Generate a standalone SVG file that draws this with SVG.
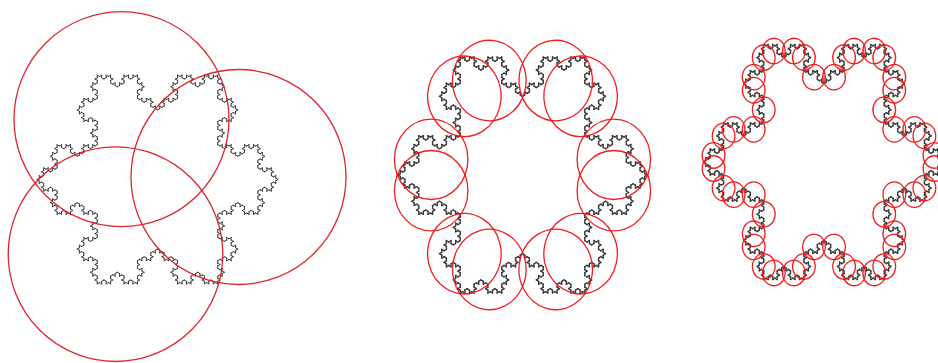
<svg xmlns="http://www.w3.org/2000/svg" xmlns:xlink="http://www.w3.org/1999/xlink" width="938" height="363" viewBox="0 0 938 363">
<style>
.seg{fill:none;vector-effect:non-scaling-stroke;stroke-linecap:round;stroke-linejoin:round}
.ring{fill:none;vector-effect:non-scaling-stroke}
.flakeL{stroke:#383838;stroke-width:1}
.flakeM{stroke:#3c3c3c;stroke-width:1.4}
.redL{stroke:#e0242e;stroke-width:1.3}
.redM{stroke:#f21c1c;stroke-width:1.3}
</style>
<defs>
<path id="k0" class="seg" d="M0,0H1"/>
<g id="k1"><use href="#k0"/><use href="#k0" transform="translate(1,0) rotate(-60)"/><use href="#k0" transform="translate(1.5,-0.8660254) rotate(60)"/><use href="#k0" transform="translate(2,0)"/></g>
<g id="k2"><use href="#k1"/><use href="#k1" transform="translate(3,0) rotate(-60)"/><use href="#k1" transform="translate(4.5,-2.5980762) rotate(60)"/><use href="#k1" transform="translate(6,0)"/></g>
<g id="k3"><use href="#k2"/><use href="#k2" transform="translate(9,0) rotate(-60)"/><use href="#k2" transform="translate(13.5,-7.7942286) rotate(60)"/><use href="#k2" transform="translate(18,0)"/></g>
<g id="k4"><use href="#k3"/><use href="#k3" transform="translate(27,0) rotate(-60)"/><use href="#k3" transform="translate(40.5,-23.3826859) rotate(60)"/><use href="#k3" transform="translate(54,0)"/></g>
<g id="sf"><use href="#k4" transform="translate(-46.765,0) rotate(-30)"/><use href="#k4" transform="translate(23.3827,-40.5) rotate(90)"/><use href="#k4" transform="translate(23.3827,40.5) rotate(210)"/></g>
<g id="mpair"><circle class="ring" cx="-34.3" cy="-5.4" r="13.8"/><circle class="ring" cx="-34.3" cy="5.4" r="13.8"/></g>
<g id="rspike">
<circle class="ring" cx="-42.868" cy="-2.25" r="4.4"/>
<circle class="ring" cx="-38.971" cy="-9" r="4.4"/>
<circle class="ring" cx="-35.074" cy="-11.25" r="4.4"/>
<circle class="ring" cx="-27.279" cy="-11.25" r="4.4"/>
<circle class="ring" cx="-42.868" cy="2.25" r="4.4"/>
<circle class="ring" cx="-38.971" cy="9" r="4.4"/>
<circle class="ring" cx="-35.074" cy="11.25" r="4.4"/>
<circle class="ring" cx="-27.279" cy="11.25" r="4.4"/>
</g>
</defs>
<rect width="938" height="363" fill="#ffffff"/>
<g id="panel-left">
<g id="snowflake-left" class="flakeL" transform="translate(157.5,179.5) scale(2.5767)"><use href="#sf"/></g>
<g id="circles-left" class="redL">
<circle class="ring" cx="121.5" cy="119.2" r="107.5"/>
<circle class="ring" cx="238.5" cy="177" r="107.5"/>
<circle class="ring" cx="115.5" cy="254.2" r="107.3"/>
</g>
</g>
<g id="panel-middle" transform="translate(522.5,175) scale(2.6623,2.914)">
<g id="snowflake-middle" class="flakeM"><use href="#sf"/></g>
<g id="circles-middle" class="redM">
<use href="#mpair"/><use href="#mpair" transform="rotate(60)"/><use href="#mpair" transform="rotate(120)"/><use href="#mpair" transform="rotate(180)"/><use href="#mpair" transform="rotate(240)"/><use href="#mpair" transform="rotate(300)"/>
</g>
</g>
<g id="panel-right" transform="translate(824,162) scale(2.5767,2.9014)">
<g id="snowflake-right" class="flakeM"><use href="#sf"/></g>
<g id="circles-right" class="redM">
<use href="#rspike"/><use href="#rspike" transform="rotate(60)"/><use href="#rspike" transform="rotate(120)"/><use href="#rspike" transform="rotate(180)"/><use href="#rspike" transform="rotate(240)"/><use href="#rspike" transform="rotate(300)"/>
</g>
</g>
</svg>
